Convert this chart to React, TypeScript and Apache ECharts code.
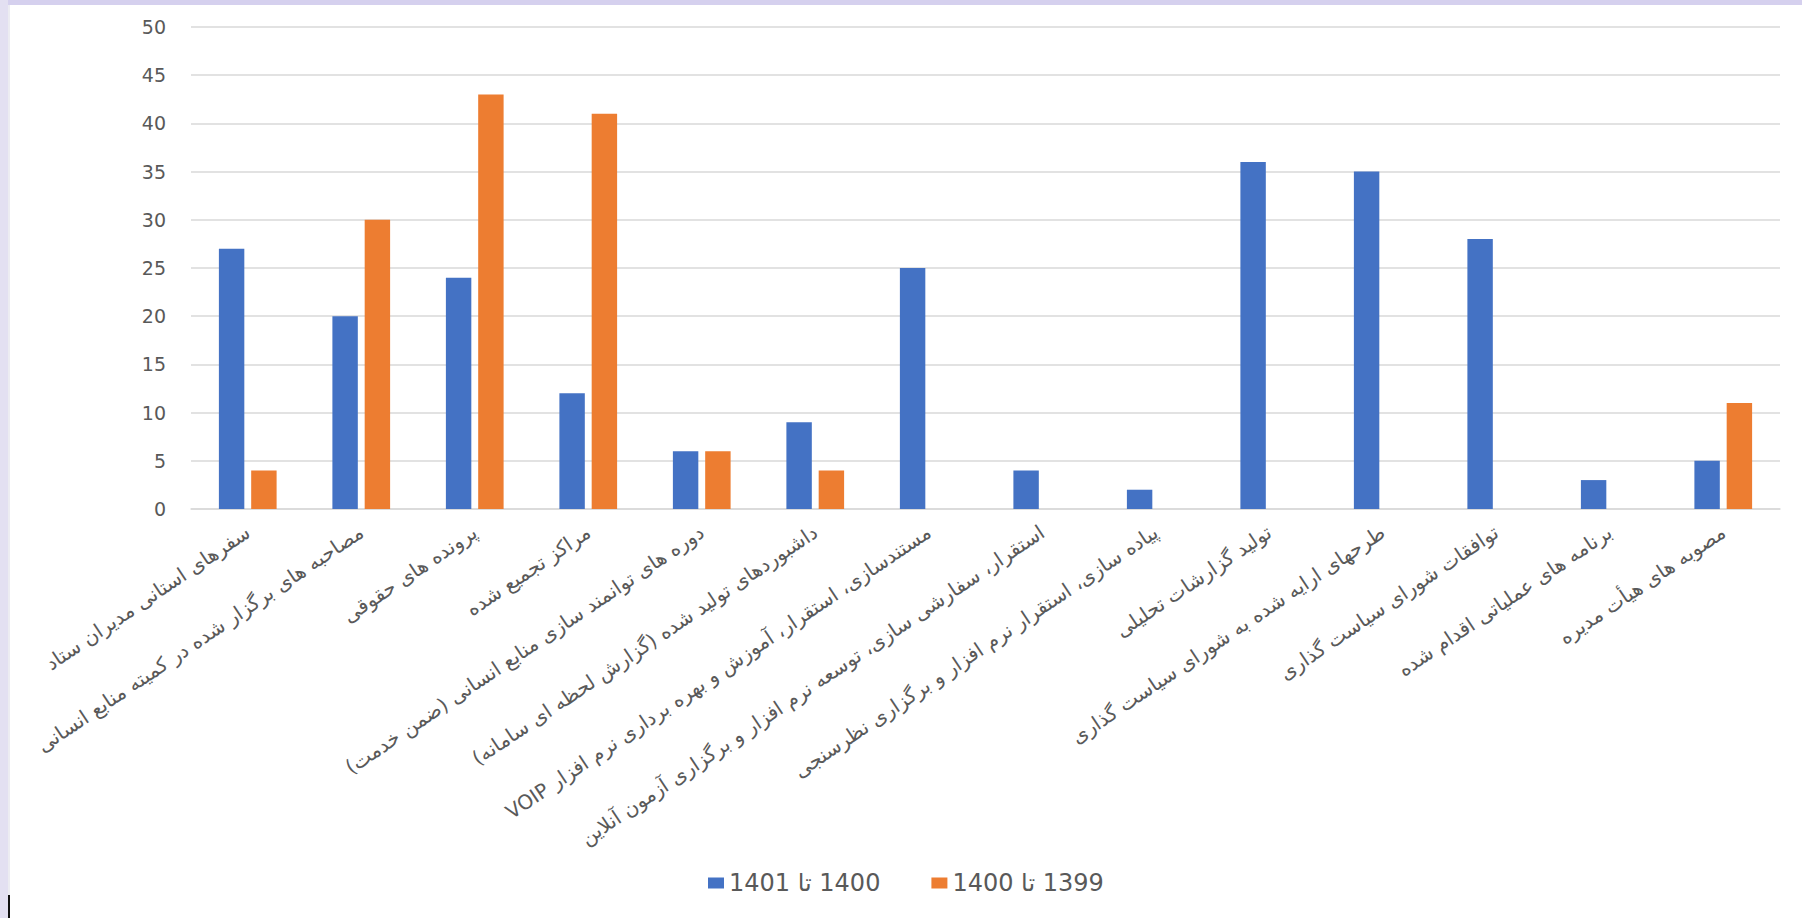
import React, { useEffect, useRef } from "react";
import * as echarts from "echarts";

const categories: string[] = [
  "سفرهای استانی مدیران ستاد",
  "مصاحبه های برگزار شده در کمیته منابع انسانی",
  "پرونده های حقوقی",
  "مراکز تجمیع شده",
  "دوره های توانمند سازی منابع انسانی (ضمن خدمت)",
  "داشبوردهای تولید شده (گزارش لحظه ای سامانه)",
  "مستندسازی، استقرار، آموزش و بهره برداری نرم افزار VOIP",
  "استقرار، سفارشی سازی، توسعه نرم افزار و برگزاری آزمون آنلاین",
  "پیاده سازی، استقرار نرم افزار و برگزاری نظرسنجی",
  "تولید گزارشات تحلیلی",
  "طرحهای ارایه شده به شورای سیاست گذاری",
  "توافقات شورای سیاست گذاری",
  "برنامه های عملیاتی اقدام شده",
  "مصوبه های هیأت مدیره",
];

const seriesNames: string[] = ["1400 تا 1401", "1399 تا 1400"];

const values1400to1401: number[] = [27, 20, 24, 12, 6, 9, 25, 4, 2, 36, 35, 28, 3, 5];
const values1399to1400: (number | null)[] = [4, 30, 43, 41, 6, 4, null, null, null, null, null, null, null, 11];

const yTicks = { min: 0, max: 50, interval: 5 };

const RLE = "\u202B";
const PDF = "\u202C";
const rtl = (s: string) => RLE + s + PDF;

export default function App() {
  const ref = useRef<HTMLDivElement>(null);

  useEffect(() => {
    if (!ref.current) return;
    const chart = echarts.init(ref.current, null, { renderer: "svg" });
    const textColor = "#595959";
    chart.setOption({
      animation: false,
      backgroundColor: "#ffffff",
      color: ["#4472C4", "#ED7D31"],
      grid: {
        left: 191,
        right: 22,
        top: 27,
        bottom: 409,
        containLabel: false,
        outerBoundsMode: "none",
      },
      legend: {
        data: seriesNames.map(rtl),
        bottom: 18,
        left: 703,
        itemWidth: 16,
        itemHeight: 11,
        itemGap: 51,
        icon: "rect",
        textStyle: {
          color: textColor,
          fontSize: 24,
          fontFamily: "DejaVu Sans",
        },
      },
      xAxis: {
        type: "category",
        data: categories.map(rtl),
        axisTick: { show: false },
        axisLine: { lineStyle: { color: "#d9d9d9", width: 1.5 } },
        axisLabel: {
          interval: 0,
          rotate: 34,
          margin: 21,
          color: textColor,
          fontSize: 20,
          fontFamily: "DejaVu Sans",
        },
      },
      yAxis: {
        type: "value",
        min: yTicks.min,
        max: yTicks.max,
        interval: yTicks.interval,
        axisLine: { show: false },
        axisTick: { show: false },
        splitLine: { lineStyle: { color: "#d9d9d9", width: 1.5 } },
        axisLabel: {
          color: textColor,
          fontSize: 19,
          margin: 25,
          fontFamily: "DejaVu Sans",
        },
      },
      series: [
        {
          name: rtl(seriesNames[0]),
          type: "bar",
          data: values1400to1401,
          barWidth: "22.4%",
          barGap: "27%",
        },
        {
          name: rtl(seriesNames[1]),
          type: "bar",
          data: values1399to1400,
          barWidth: "22.4%",
          barGap: "27%",
        },
      ],
      graphic: [
        {
          type: "rect",
          left: 0,
          top: 0,
          shape: { width: 1802, height: 5 },
          style: { fill: "#d5d0ee" },
          silent: true,
        },
        {
          type: "rect",
          left: 0,
          top: 0,
          shape: { width: 8, height: 918 },
          style: { fill: "#e3e0f2" },
          silent: true,
        },
        {
          type: "line",
          shape: { x1: 9, y1: 5, x2: 9, y2: 918 },
          style: { stroke: "#ececf2", lineWidth: 2 },
          silent: true,
        },
        {
          type: "line",
          shape: { x1: 9, y1: 895, x2: 9, y2: 918 },
          style: { stroke: "#111111", lineWidth: 2 },
          silent: true,
        },
      ],
    });
    return () => chart.dispose();
  }, []);

  return (
    <div
      ref={ref}
      style={{ position: "fixed", left: 0, top: 0, width: 1802, height: 918 }}
    />
  );
}
